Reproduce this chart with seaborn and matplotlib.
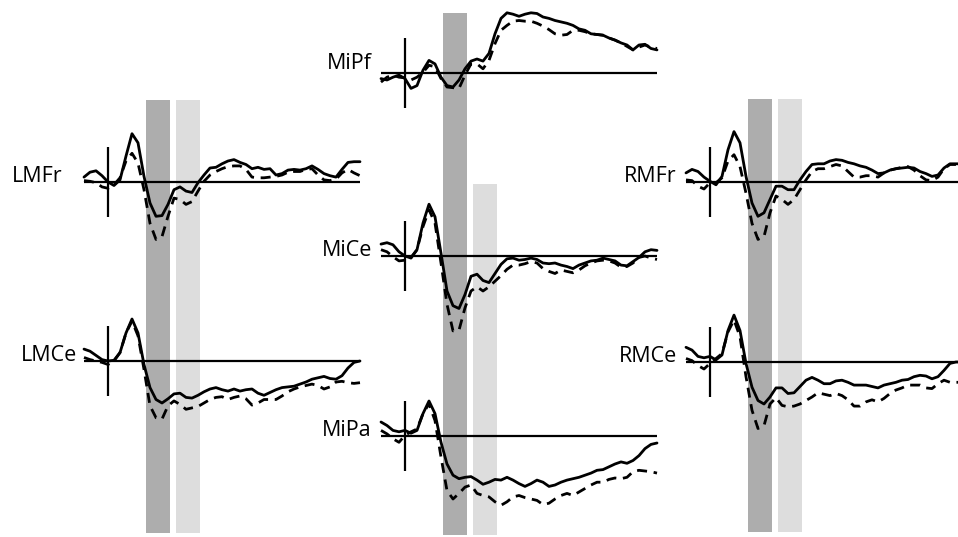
import numpy as np
import pandas as pd
import seaborn as sns
import matplotlib.pyplot as plt

# time grid (ms) and the two averaged conditions for each electrode (µV)
times = np.arange(-100, 1051, 25)

lmfr_solid = [0.7, 1.4, 1.6, 0.9, 0.0, -0.5, 0.3, 3.7, 6.9, 5.6, 0.8, -3.0, -4.9, -4.8, -3.2, -1.1,
              -0.7, -1.3, -1.5, -0.1, 1.0, 2.0, 2.1, 2.6, 3.0, 3.2, 2.8, 2.5, 1.9, 2.1, 1.8, 1.9,
              1.0, 1.2, 1.7, 1.8, 1.7, 1.9, 2.3, 1.8, 1.2, 0.9, 0.7, 1.8, 2.8, 2.9, 2.9]
lmfr_dashed = [0.2, 0.1, -0.1, -0.7, -0.9, -0.4, 0.6, 3.0, 4.1, 2.7, -1.1, -5.9, -8.2, -7.8, -4.9, -2.3,
               -2.5, -3.2, -2.8, -1.3, 0.1, 1.0, 1.5, 1.9, 2.2, 2.3, 2.3, 1.8, 0.7, 0.6, 0.6, 0.7,
               0.8, 1.0, 1.4, 1.5, 1.5, 1.8, 1.9, 1.0, 0.3, 0.2, 0.4, 1.3, 1.8, 1.3, 0.9]

lmce_solid = [1.7, 1.4, 0.8, 0.2, 0.0, 0.1, 1.2, 4.0, 6.0, 4.0, -0.5, -3.8, -5.5, -6.0, -5.4, -4.7,
              -4.6, -5.2, -5.3, -4.9, -4.4, -4.0, -3.8, -4.1, -4.3, -4.0, -4.3, -4.1, -4.0, -4.6, -4.9, -4.5,
              -4.1, -3.8, -3.7, -3.6, -3.3, -3.0, -2.6, -2.4, -2.2, -2.5, -2.6, -2.1, -1.0, -0.2, 0.0]
lmce_dashed = [0.5, 0.2, 0.0, -0.2, -0.5, 0.0, 1.2, 4.0, 5.7, 3.6, -1.2, -6.4, -8.1, -8.3, -6.4, -5.7,
               -6.2, -6.9, -6.7, -6.5, -6.0, -5.5, -5.2, -5.1, -5.5, -5.2, -5.0, -5.4, -6.3, -6.0, -5.5, -5.5,
               -5.5, -5.0, -4.4, -4.0, -3.7, -3.5, -3.3, -3.5, -4.0, -3.7, -3.0, -2.9, -3.1, -3.2, -3.1]

mipf_solid = [-0.8, -1.0, -0.6, -0.3, -0.8, -2.2, -1.8, 0.4, 1.8, 1.3, -0.6, -1.8, -2.0, -1.0, 0.6, 1.7,
              2.0, 1.7, 2.8, 5.6, 7.8, 8.6, 8.4, 8.1, 8.4, 8.6, 8.5, 8.0, 7.8, 7.5, 7.3, 7.1,
              6.8, 6.3, 6.1, 5.6, 5.5, 5.4, 5.0, 4.7, 4.3, 4.0, 3.3, 4.0, 4.1, 3.5, 3.3]
mipf_dashed = [-1.3, -0.6, -0.3, -0.6, -0.7, -1.0, -0.6, 0.1, 1.1, 0.9, -0.8, -2.0, -2.1, -2.2, -0.3, 1.3,
               1.3, 0.6, 1.8, 4.2, 6.1, 6.8, 7.4, 7.5, 7.4, 7.4, 7.1, 6.7, 6.2, 5.6, 5.4, 5.5,
               6.1, 6.1, 5.9, 5.6, 5.5, 5.4, 5.0, 4.7, 4.3, 3.8, 3.3, 3.7, 4.0, 3.7, 3.5]

mice_solid = [1.7, 1.9, 1.6, 0.6, 0.0, -0.3, 0.9, 4.7, 7.4, 5.6, 0.4, -5.0, -7.1, -7.5, -5.5, -2.9,
              -2.6, -3.5, -3.8, -2.5, -1.2, -0.4, -0.3, -0.6, -0.5, -0.3, -0.5, -1.0, -1.1, -1.0, -1.3, -1.5,
              -1.8, -1.3, -1.0, -0.7, -0.6, -0.3, -0.5, -0.7, -1.3, -1.4, -0.8, -0.2, 0.6, 0.9, 0.8]
mice_dashed = [0.9, 0.6, -0.1, -0.7, -0.6, -0.2, 0.9, 4.2, 6.6, 4.7, -1.0, -6.9, -10.7, -10.6, -7.4, -5.0,
               -4.4, -5.0, -4.4, -3.6, -2.8, -1.9, -1.3, -1.3, -1.1, -0.8, -1.0, -1.8, -2.2, -2.5, -2.0, -2.2,
               -2.4, -2.0, -1.4, -1.0, -0.7, -0.6, -0.7, -1.0, -1.6, -1.5, -1.0, -0.2, 0.0, -0.3, -0.5]

mipa_solid = [2.0, 1.5, 0.8, 0.6, 0.8, 0.4, 0.8, 3.2, 5.0, 3.2, -0.9, -4.0, -5.6, -6.1, -5.9, -5.8,
              -6.3, -6.9, -6.6, -6.2, -6.3, -5.9, -6.3, -6.8, -7.2, -6.8, -6.3, -6.6, -7.2, -7.0, -6.6, -6.3,
              -6.1, -5.9, -5.6, -5.3, -4.9, -4.8, -4.4, -4.0, -3.7, -3.9, -3.5, -2.8, -1.8, -1.2, -1.0]
mipa_dashed = [0.8, 0.3, -0.4, -0.9, 0.1, 0.6, 1.0, 3.2, 4.6, 2.2, -3.0, -7.8, -9.0, -8.2, -7.3, -7.0,
               -8.2, -8.5, -8.7, -9.4, -9.9, -9.4, -8.7, -8.5, -8.8, -9.0, -9.2, -9.8, -9.6, -9.0, -8.5, -8.2,
               -8.5, -8.0, -7.5, -7.0, -6.6, -6.6, -6.2, -6.0, -6.1, -5.9, -5.1, -4.9, -5.0, -5.1, -5.3]

rmfr_solid = [1.3, 1.8, 1.5, 0.7, 0.1, -0.4, 0.8, 4.6, 7.2, 5.6, 0.8, -3.0, -4.9, -4.4, -2.5, -0.6,
              -0.6, -1.1, -1.1, 0.3, 1.5, 2.5, 2.6, 2.6, 3.0, 3.2, 3.1, 2.8, 2.6, 2.3, 2.1, 1.7,
              1.2, 1.3, 1.7, 1.9, 2.0, 2.1, 2.0, 1.5, 1.2, 0.8, 1.0, 2.0, 2.6, 2.6, 2.6]
rmfr_dashed = [0.3, 0.2, -0.6, -1.0, -0.1, -0.1, 0.6, 3.0, 3.9, 2.2, -1.6, -5.9, -8.2, -7.8, -4.4, -2.0,
               -2.5, -3.2, -2.5, -1.1, 0.3, 1.5, 1.9, 1.9, 2.2, 2.5, 2.3, 1.5, 0.7, 0.7, 0.9, 0.9,
               0.7, 1.3, 1.7, 1.9, 2.1, 2.2, 1.7, 0.9, 0.3, 0.2, 0.7, 1.9, 2.5, 2.5, 2.5]

rmce_solid = [2.1, 1.7, 0.8, 0.6, 0.8, 0.3, 1.0, 4.5, 6.7, 4.5, -0.2, -3.6, -5.5, -6.0, -5.0, -3.7,
              -3.7, -4.5, -4.4, -3.5, -2.6, -2.2, -2.6, -3.1, -3.1, -2.7, -2.6, -2.9, -3.3, -3.3, -3.3, -3.5,
              -3.7, -3.3, -3.1, -2.9, -2.6, -2.5, -2.1, -1.9, -2.0, -2.4, -2.1, -1.2, -0.2, 0.0, 0.0]
rmce_dashed = [0.5, 0.2, -0.5, -1.0, -0.2, 0.5, 1.2, 4.3, 6.0, 3.6, -2.1, -6.9, -9.5, -9.1, -6.0, -5.1,
               -6.2, -6.4, -6.3, -6.0, -5.5, -5.0, -4.4, -4.6, -4.8, -4.5, -4.8, -5.4, -6.3, -6.3, -5.7, -5.4,
               -5.7, -5.2, -4.5, -4.0, -3.7, -3.3, -3.3, -3.3, -3.7, -3.8, -3.1, -2.6, -2.9, -2.9, -2.9]

# analysis windows (ms)
win_early = (160, 260)
win_late = (285, 385)

# ---- layout (pixels of the 958x537 canvas) ----
W, H = 958, 537
PX_PER_MS = 0.24
PX_PER_UV = 7.0
T_MIN, T_MAX = -100, 1050
Y_HALF = 16
AXIS_UV = 5

# name, zero x, baseline y, label right-offset px, label raise px
panels = [
    ("LMFr", 108, 182, -21, 0, lmfr_solid, lmfr_dashed),
    ("LMCe", 108, 361, -7, 0, lmce_solid, lmce_dashed),
    ("MiPf", 405, 73, -9, 4, mipf_solid, mipf_dashed),
    ("MiCe", 405, 256, -9, 0, mice_solid, mice_dashed),
    ("MiPa", 405, 436, -9, 0, mipa_solid, mipa_dashed),
    ("RMFr", 710, 182, -9, 0, rmfr_solid, rmfr_dashed),
    ("RMCe", 710, 362, -9, 0, rmce_solid, rmce_dashed),
]

# columns: zero x, (top, bottom) px of early and late window bars
columns = [
    (108, (100, 533), (100, 533)),
    (405, (13, 535), (184, 535)),
    (710, (99, 532), (99, 532)),
]

DARK = "#adadad"
LIGHT = "#dddddd"

sns.set_style("white")
plt.rcParams["font.family"] = ["Open Sans", "DejaVu Sans"]

fig = plt.figure(figsize=(W / 100, H / 100), dpi=100)


def x_extent(x0):
    left = (x0 + T_MIN * PX_PER_MS) / W
    width = (T_MAX - T_MIN) * PX_PER_MS / W
    return left, width


# window bars behind the waveforms
for x0, early_span, late_span in columns:
    left, width = x_extent(x0)
    bg = fig.add_axes([left, 0, width, 1])
    bg.set_xlim(T_MIN, T_MAX)
    bg.set_ylim(0, 1)
    bg.axis("off")
    for win, span, col in [(win_early, early_span, DARK), (win_late, late_span, LIGHT)]:
        bg.axvspan(win[0], win[1], ymin=1 - span[1] / H, ymax=1 - span[0] / H,
                   color=col, lw=0, zorder=0)

for name, x0, base, lab_dx, lab_dy, solid, dashed in panels:
    left, width = x_extent(x0)
    half = Y_HALF * PX_PER_UV
    ax = fig.add_axes([left, (H - base - half) / H, width, 2 * half / H])
    ax.patch.set_alpha(0)
    ax.axis("off")
    ax.set_xlim(T_MIN, T_MAX)
    ax.set_ylim(-Y_HALF, Y_HALF)

    df = pd.DataFrame({
        "time": np.concatenate([times, times]),
        "amp": np.concatenate([solid, dashed]),
        "cond": ["solid"] * len(times) + ["dashed"] * len(times),
    })
    sns.lineplot(data=df, x="time", y="amp", style="cond", color="black", linewidth=2.0,
                 dashes={"solid": "", "dashed": (3.6, 2.4)}, legend=False, ax=ax,
                 clip_on=False)
    for line in ax.get_lines():
        line.set_solid_joinstyle("round")
        line.set_dash_capstyle("butt")

    ax.axhline(0, color="black", lw=1.6, zorder=1)
    ax.vlines(0, -AXIS_UV, AXIS_UV, color="black", lw=1.6)
    ax.annotate(name, xy=(T_MIN, 0), xytext=(lab_dx * 0.72, lab_dy * 0.72),
                textcoords="offset points", ha="right", va="baseline",
                fontsize=15.5, color="black")

fig.savefig("out.png", dpi=100, facecolor="white")
